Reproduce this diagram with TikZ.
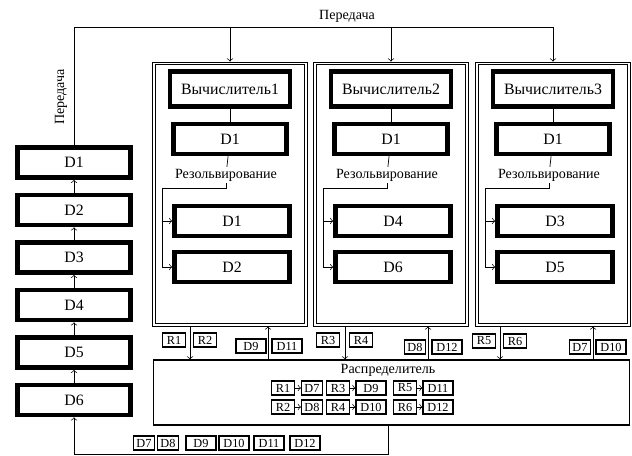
\documentclass[tikz,border=0pt]{standalone}
\usepackage{fontspec}
\setmainfont{Liberation Serif}

\begin{document}
\begin{tikzpicture}[x=0.02cm,y=-0.02cm,>=to,
    blk/.style={draw,line width=2.6pt,minimum width=2.26cm,minimum height=0.6cm,inner sep=1pt,font=\fontsize{9}{10}\selectfont},
    pan/.style={draw,line width=0.5pt,minimum width=3.1cm,minimum height=5.28cm},
    tag/.style={draw,line width=0.6pt,inner sep=0.8pt,minimum width=0.46cm,minimum height=0.28cm,font=\fontsize{7}{8}\selectfont},
    lbl/.style={font=\fontsize{8}{9}\selectfont,inner sep=1pt}]
    \useasboundingbox (0,0) rectangle (632,456);
    % computer panels (double frame)
    \node[pan] (pan1) at (230,194) {};
    \node[pan] (pan2) at (391,194) {};
    \node[pan] (pan3) at (553,194) {};
    \foreach \p in {1,2,3}
      \draw[line width=0.5pt] ([shift={(3,3)}]pan\p.north west) rectangle ([shift={(-3,-3)}]pan\p.south east);
    \foreach \p/\x/\u/\v in {1/230/1/2, 2/391/4/6, 3/553/3/5} {
      \node[blk,minimum width=2.4cm,minimum height=0.7cm] (comp\p) at (\x,89) {Вычислитель\p};
      \node[blk] (top\p) at (\x,139) {D1};
      \node[lbl] (res\p) at (\x-4,175) {Резольвирование};
      \node[blk,minimum width=2.3cm] (ua\p) at (\x+2,221) {D\u};
      \node[blk,minimum width=2.3cm] (ub\p) at (\x+2,267) {D\v};
      \draw (comp\p) -- (top\p);
      \draw (top\p) -- (res\p);
      \draw[->] (res\p.south) -- ++(0,5) -| ([xshift=-0.2cm]ub\p.west) -- (ub\p.west);
      \draw[->] ([xshift=-0.2cm]ua\p.west) -- (ua\p.west);
    }
    % left column
    \foreach \i in {1,...,6}
      \node[blk] (L\i) at (74,{162.5+47.5*(\i-1)}) {D\i};
    \foreach \i [count=\j] in {2,...,6}
      \draw[->] (L\i) -- (L\j);
    % transfer bus
    \coordinate (bus) at (70,27);
    \draw (L1.north) |- (bus -| pan3.north);
    \foreach \p in {1,2,3}
      \draw[->] (bus -| pan\p.north) -- (pan\p.north);
    \node[lbl] (tlbl) at (347,16) {Передача};
    \node[lbl,rotate=90] (llbl) at (61,97) {Передача};
    % distributor
    \node[draw,line width=0.6pt,minimum width=9.54cm,minimum height=1.3cm] (dist) at (391.5,392.5) {};
    \node[lbl] (dlbl) at (388,370) {Распределитель};
    \foreach \r/\d/\x/\y/\w/\o in {1/7/283/388/0.42/29, 2/8/283/407/0.42/29, 3/9/338/388/0.6/33,
                                   4/10/338/407/0.6/33, 5/11/405/388/0.6/33, 6/12/405/407/0.6/33} {
      \node[tag] (gR\r) at (\x,\y) {R\r};
      \node[tag,minimum width=\w cm] (gD\d) at (\x+\o,\y) {D\d};
      \draw[->] (gR\r) -- (gD\d);
    }
    % panel <-> distributor
    \foreach \p/\dx/\ux in {1/190/268, 2/345/428, 3/500/593} {
      \coordinate (dn\p) at (\dx,0);
      \coordinate (up\p) at (\ux,0);
      \draw[->] (dn\p |- pan\p.south) -- (dn\p |- dist.north);
      \draw[->] (up\p |- dist.north) -- (up\p |- pan\p.south);
    }
    \node[tag] (pR1) at (174,340) {R1};
    \node[tag] (pR2) at (205,340) {R2};
    \node[tag,minimum width=0.6cm] (pD9) at (251,346) {D9};
    \node[tag,minimum width=0.6cm] (pD11) at (287,346) {D11};
    \node[tag] (pR3) at (328,340) {R3};
    \node[tag] (pR4) at (361,340) {R4};
    \node[tag,minimum width=0.42cm] (pD8) at (415,347) {D8};
    \node[tag,minimum width=0.6cm] (pD12) at (447,347) {D12};
    \node[tag] (pR5) at (484,341) {R5};
    \node[tag] (pR6) at (515,341) {R6};
    \node[tag,minimum width=0.42cm] (pD7) at (580,347) {D7};
    \node[tag,minimum width=0.6cm] (pD10) at (611,347) {D10};
    % return line
    \coordinate (ret) at (388,454);
    \draw[->] (ret |- dist.south) -- (ret) -| (L6.south);
    \foreach \d/\x/\w in {7/144/0.42, 8/168/0.42, 9/201/0.6, 10/234/0.6, 11/269/0.6, 12/305/0.6}
      \node[tag,minimum width=\w cm] (bD\d) at (\x,443) {D\d};
\end{tikzpicture}
\end{document}
